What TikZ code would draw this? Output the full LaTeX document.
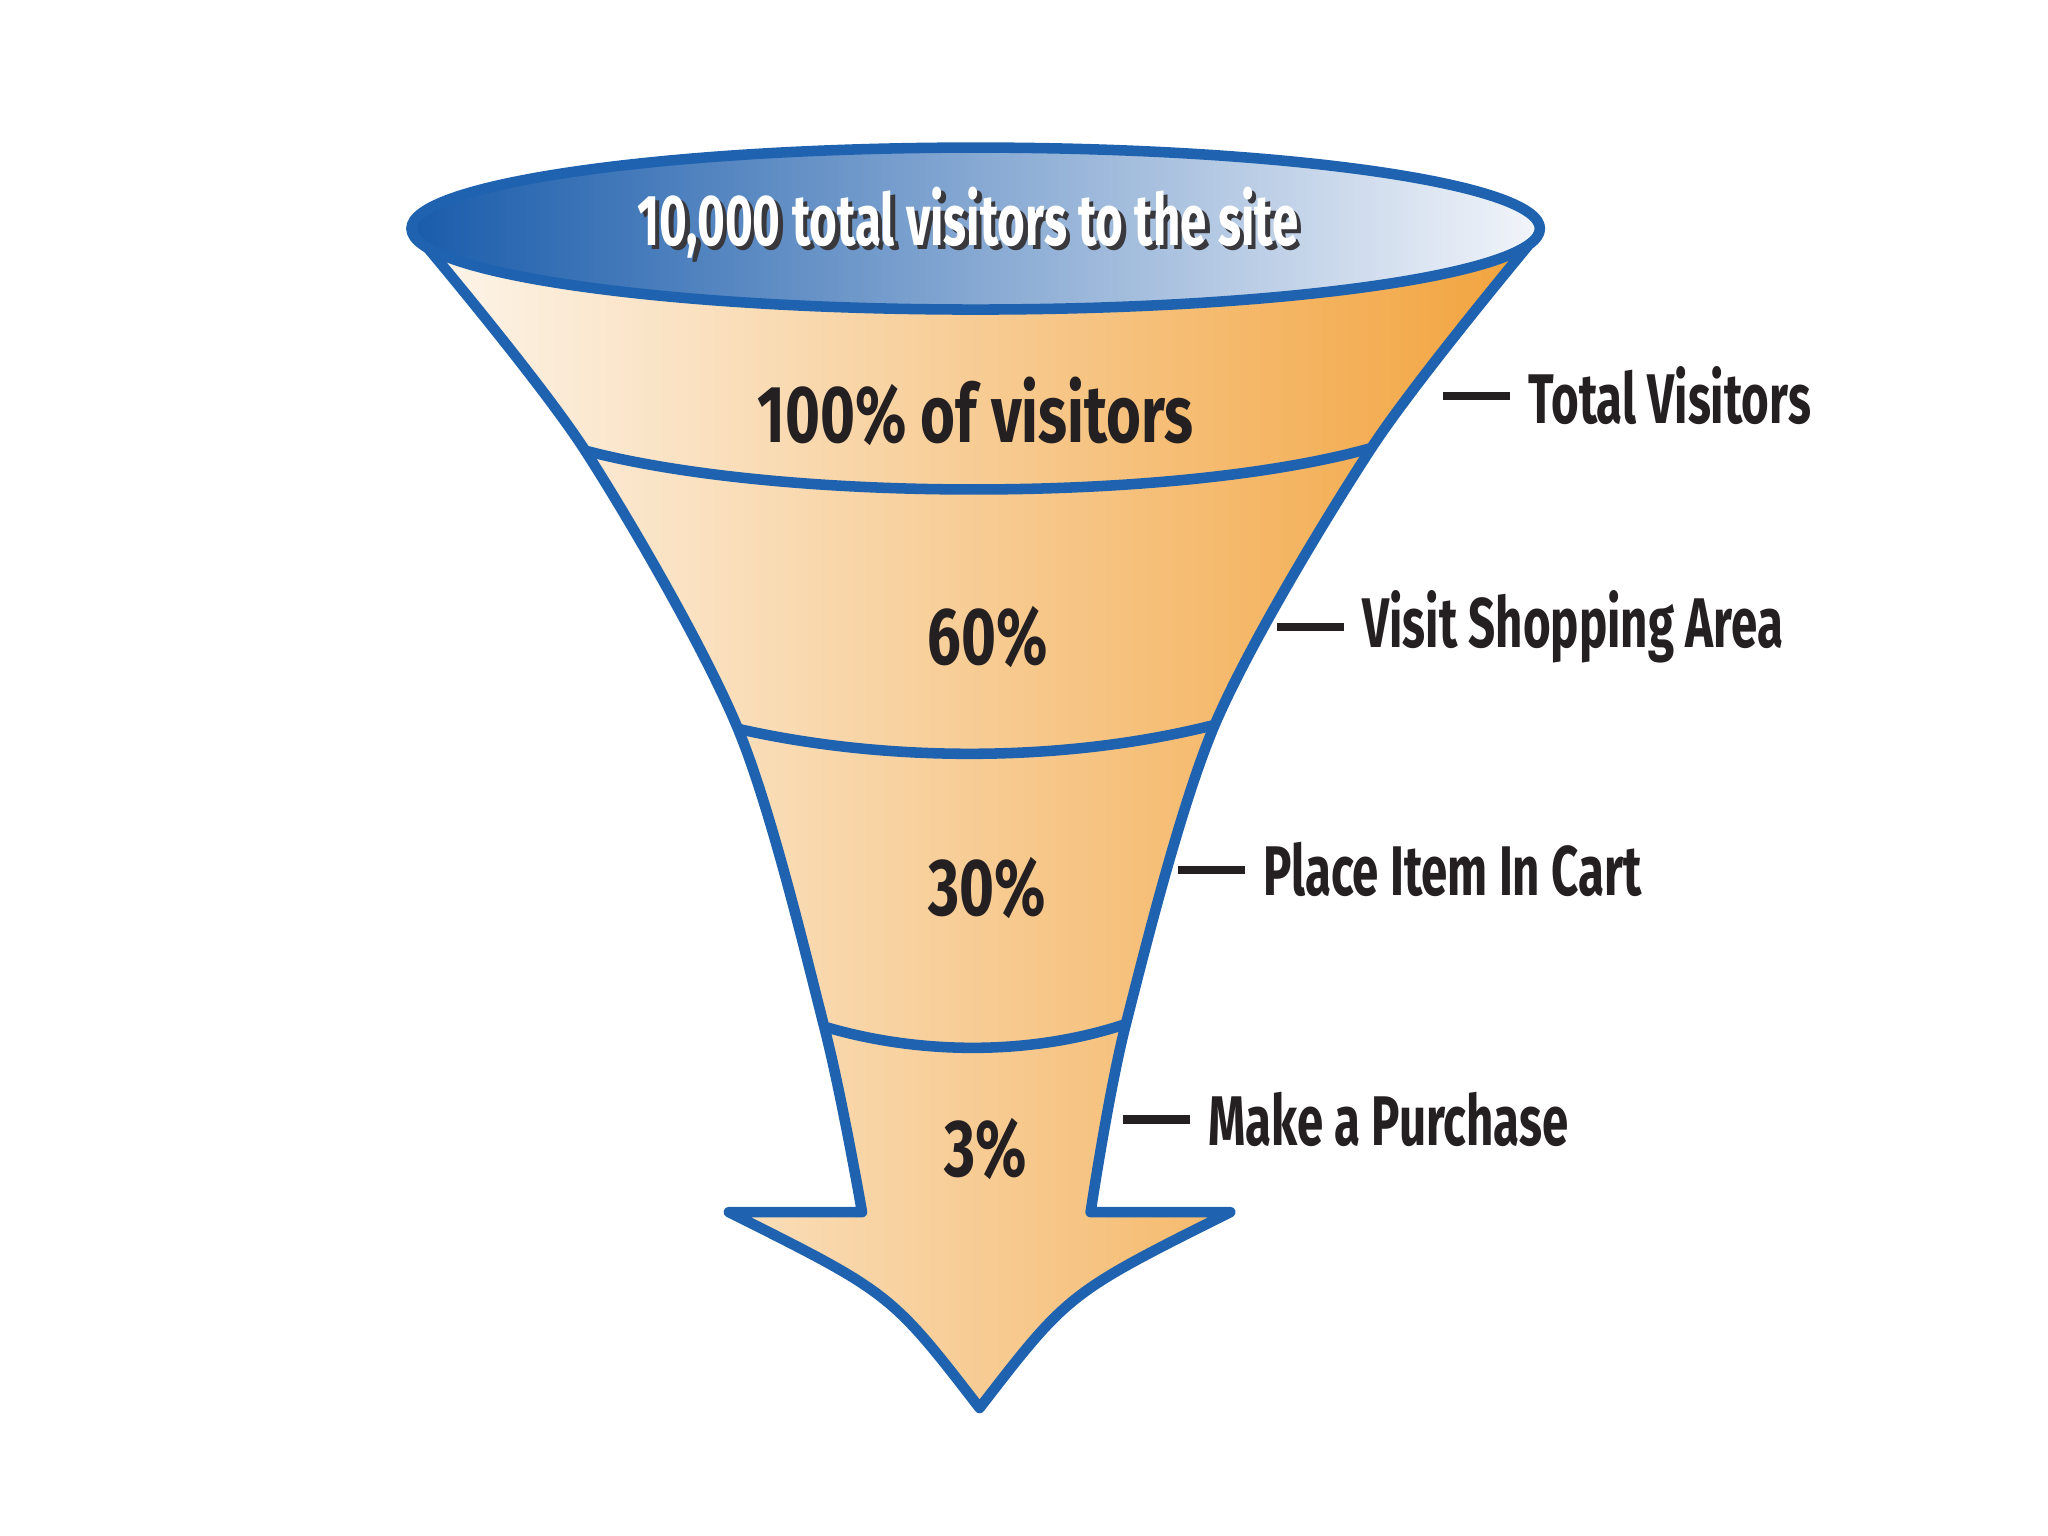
\documentclass[tikz,border=0pt]{standalone}
\usepackage{fontspec}
\newfontfamily\funnelfont[FakeStretch=0.74]{Fira Sans}
\newfontfamily\stagefont[FakeStretch=0.675]{Fira Sans}
\newfontfamily\rimfont[FakeStretch=0.66]{Fira Sans}
\usepackage{tikz}
\usetikzlibrary{positioning}
\definecolor{edgeclr}{rgb}{0.12, 0.39, 0.69}
\definecolor{rimdark}{rgb}{0.10, 0.36, 0.67}
\definecolor{rimmid}{rgb}{0.38, 0.57, 0.80}
\definecolor{rimlight}{rgb}{0.95, 0.96, 0.98}
\definecolor{bodylight}{rgb}{0.99, 0.96, 0.92}
\definecolor{bodymid}{rgb}{0.97, 0.82, 0.63}
\definecolor{bodydark}{rgb}{0.95, 0.64, 0.24}
\definecolor{txtclr}{rgb}{0.14, 0.12, 0.13}
\definecolor{shadowclr}{rgb}{0.22, 0.22, 0.24}
\newcommand\shadowed[1]{\makebox[0pt][l]{\hspace{1.3pt}\raisebox{-1.3pt}{\color{shadowclr}#1}}\color{white}#1}
\tikzset{ %
  ,>=latex
  ,outline/.style={draw=edgeclr, line width=3pt, line join=round}
  ,rimtxt/.style={font=\rimfont\bfseries\fontsize{20.5}{20.5}\selectfont, inner sep=0}
  ,pct/.style={font=\funnelfont\bfseries\fontsize{23}{23}\selectfont, text=txtclr, inner sep=0}
  ,stage/.style={font=\stagefont\bfseries\fontsize{20}{20}\selectfont, text=txtclr, inner xsep=5pt, inner ysep=0, node distance=19pt}
  ,tick/.style={draw=txtclr, line width=2.4pt}
}
\begin{document}
\begin{tikzpicture}[x=0.01306cm, y=-0.01306cm]
  \useasboundingbox (0,0) rectangle (1568,1176);
  % corners of the funnel
  \coordinate (l0) at (326,188);
  \coordinate (l1) at (448,345);
  \coordinate (l2) at (565,558);
  \coordinate (l3) at (631,786);
  \coordinate (l4) at (660,928);
  \coordinate (r0) at (1170,188);
  \coordinate (r1) at (1050,343);
  \coordinate (r2) at (930,555);
  \coordinate (r3) at (862,784);
  \coordinate (r4) at (835,928);
  \coordinate (wl) at (558,928);
  \coordinate (wr) at (942,928);
  \coordinate (tip) at (750,1078);
  \shade[left color=bodylight, middle color=bodymid, right color=bodydark]
    plot[smooth, tension=0.5] coordinates {(l0) (l1) (l2) (l3) (l4)}
    -- (wl) .. controls (682,990) .. (tip) .. controls (818,990) .. (wr)
    -- plot[smooth, tension=0.5] coordinates {(r4) (r3) (r2) (r1) (r0)} -- cycle;
  \draw[outline]
    plot[smooth, tension=0.5] coordinates {(l0) (l1) (l2) (l3) (l4)}
    -- (wl) .. controls (682,990) .. (tip) .. controls (818,990) .. (wr)
    -- plot[smooth, tension=0.5] coordinates {(r4) (r3) (r2) (r1) (r0)};
  \draw[outline] (l1) .. controls (600,385) and (900,385) .. (r1);
  \draw[outline] (l2) .. controls (680,584) and (815,584) .. (r2);
  \draw[outline] (l3) .. controls (705,808) and (790,808) .. (r3);
  \shadedraw[outline, left color=rimdark, middle color=rimmid, right color=rimlight]
    (747,175) ellipse (432 and 62);
  % texts
  \node[rimtxt] (rim) at (741,172) {\shadowed{10,000 total visitors to the site}};
  \node[pct] (p100) at (747,315) {100\% of visitors};
  \node[pct] (p60) at (756,488) {60\%};
  \node[pct] (p30) at (756,680) {30\%};
  \node[pct] (p3) at (755,880) {3\%};
  % stage labels
  \coordinate (e1) at (1105,303);
  \coordinate (e2) at (978,480);
  \coordinate (e3) at (902,666);
  \coordinate (e4) at (860,857);
  \node[stage, right=of e1] (s1) {Total Visitors};
  \node[stage, right=of e2] (s2) {Visit Shopping Area};
  \node[stage, right=of e3] (s3) {Place Item In Cart};
  \node[stage, right=of e4] (s4) {Make a Purchase};
  \draw[tick] (e1) -- (s1.west) (e2) -- (s2.west) (e3) -- (s3.west) (e4) -- (s4.west);
\end{tikzpicture}
\end{document}
